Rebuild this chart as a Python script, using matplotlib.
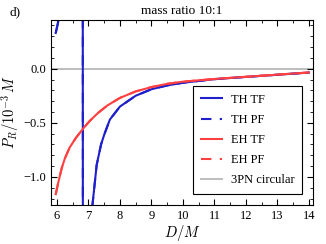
import numpy as np
import matplotlib.pyplot as plt
from matplotlib.ticker import MultipleLocator

plt.rcParams['font.family'] = 'serif'
plt.rcParams['font.serif'] = ['Liberation Serif', 'DejaVu Serif']
plt.rcParams['mathtext.fontset'] = 'cm'

# TH (blue) curve; passes a pole near D/M ~ 6.82
th_x = [5.96, 6.06, 6.4, 6.81, 6.83, 7.0, 7.13, 7.26, 7.4, 7.5, 7.68, 8.0, 8.5, 9.0, 9.5,
        10.0, 11.0, 12.0, 13.0, 14.0]
th_y = [0.33, 0.46, 1.5, 8.0, -8.0, -2.2, -1.25, -0.89, -0.70, -0.61, -0.47, -0.35, -0.25,
        -0.19, -0.155, -0.13, -0.097, -0.076, -0.056, -0.036]

# EH (red) curve
eh_x = [5.96, 6.05, 6.15, 6.25, 6.4, 6.6, 6.84, 7.05, 7.3, 7.6, 8.0, 8.5, 9.0, 9.5, 10.0,
        11.0, 12.0, 13.0, 14.0]
eh_y = [-1.16, -1.04, -0.92, -0.83, -0.73, -0.64, -0.55, -0.48, -0.41, -0.34, -0.27,
        -0.21, -0.17, -0.14, -0.12, -0.095, -0.075, -0.055, -0.035]

# 3PN circular
pn_x = [5.8, 14.2]
pn_y = [0.0, 0.0]

blue = '#1f1fcc'
red = '#ff4040'
gray = '#bdbdbd'

fig = plt.figure(figsize=(3.26, 2.44), dpi=100)
ax = fig.add_axes([51 / 326, 1 - 205 / 244, 262 / 326, 185 / 244])

ax.plot(pn_x, pn_y, color=gray, lw=1.4, label='3PN circular', zorder=1)
ax.plot(th_x, th_y, color=blue, lw=1.5, label='TH TF', zorder=2)
ax.plot(th_x, th_y, color=blue, lw=1.5, ls=(0, (5, 4)), label='TH PF', zorder=2)
ax.plot(eh_x, eh_y, color=red, lw=1.5, label='EH TF', zorder=3)
ax.plot(eh_x, eh_y, color=red, lw=1.5, ls=(0, (5, 4)), label='EH PF', zorder=3)

ax.set_xlim(5.81, 14.13)
ax.set_ylim(-1.26, 0.45)
ax.xaxis.set_major_locator(MultipleLocator(1))
ax.xaxis.set_minor_locator(MultipleLocator(0.5))
ax.yaxis.set_major_locator(MultipleLocator(0.5))
ax.yaxis.set_minor_locator(MultipleLocator(0.1))
ax.yaxis.set_major_formatter(lambda v, p: f'{v:.1f}'.replace('-', '\u2212'))
ax.tick_params(which='both', direction='in', top=True, right=True, labelsize=9)
ax.tick_params(which='major', length=4)
ax.tick_params(which='minor', length=2)

ax.set_xlabel('$D/M$', fontsize=10.5, labelpad=1)
ax.set_ylabel(r'$P_R/10^{-3}\,M$', fontsize=10.5, labelpad=2)
ax.set_title('mass ratio 10:1', fontsize=9.5, pad=4)
fig.text(10 / 326, 1 - 12 / 244, 'd)', fontsize=9.5, va='center')

handles, labels = ax.get_legend_handles_labels()
order = [1, 2, 3, 4, 0]
leg = ax.legend([handles[i] for i in order], [labels[i] for i in order],
                loc='lower right', fontsize=9, fancybox=False, framealpha=1,
                edgecolor='black', handlelength=1.7, handletextpad=0.7,
                labelspacing=0.65, borderpad=0.6, borderaxespad=0.9)
leg.get_frame().set_linewidth(0.8)

fig.savefig('out.png', dpi=100)
